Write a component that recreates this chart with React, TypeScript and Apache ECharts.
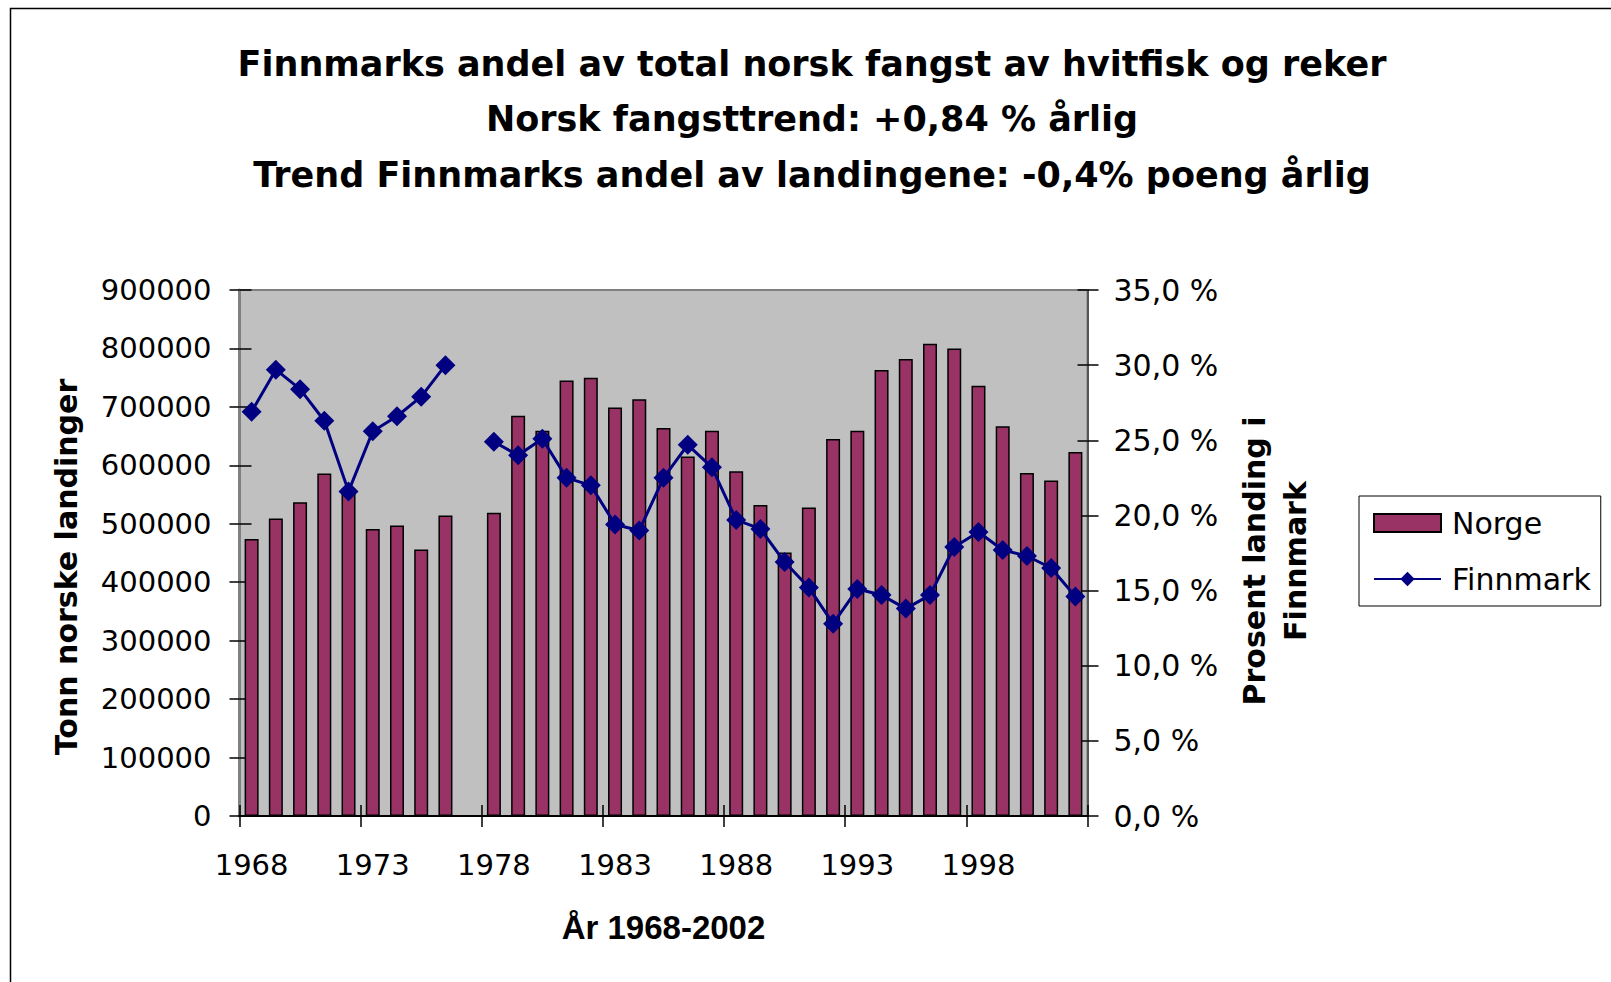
import React, { useEffect, useRef } from "react";
import * as echarts from "echarts";

const years: string[] = [
  "1968", "1969", "1970", "1971", "1972", "1973", "1974", "1975", "1976", "1977",
  "1978", "1979", "1980", "1981", "1982", "1983", "1984", "1985", "1986", "1987",
  "1988", "1989", "1990", "1991", "1992", "1993", "1994", "1995", "1996", "1997",
  "1998", "1999", "2000", "2001", "2002",
];

const norge: (number | null)[] = [
  474000, 509000, 537000, 586000, 560000, 491000, 497000, 456000, 514000, null,
  519000, 685000, 659000, 745000, 750000, 699000, 713000, 664000, 615000, 659000,
  590000, 532000, 451000, 528000, 645000, 659000, 763000, 782000, 808000, 800000,
  736000, 667000, 587000, 574000, 623000,
];

const finnmark: (number | null)[] = [
  26.9, 29.7, 28.4, 26.3, 21.6, 25.6, 26.6, 27.9, 30.0, null,
  24.9, 24.0, 25.1, 22.5, 22.0, 19.4, 19.0, 22.5, 24.7, 23.2,
  19.7, 19.1, 16.9, 15.2, 12.8, 15.1, 14.7, 13.8, 14.7, 17.9,
  18.9, 17.7, 17.3, 16.5, 14.6,
];

const titleLines: string[] = [
  "Finnmarks andel av total norsk fangst av hvitfisk og reker",
  "Norsk fangsttrend: +0,84 % årlig",
  "Trend Finnmarks andel av landingene: -0,4% poeng årlig",
];

const FONT = "'Liberation Sans', Arial, sans-serif";
const WIDE = "'DejaVu Sans', 'Liberation Sans', sans-serif";

export default function App() {
  const ref = useRef<HTMLDivElement>(null);

  useEffect(() => {
    if (!ref.current) return;
    const chart = echarts.init(ref.current, undefined, { renderer: "svg" });
    const gridLeft = 239.5;
    const gridTop = 290;
    const gridW = 848;
    const gridH = 526;

    chart.setOption({
      animation: false,
      backgroundColor: "#ffffff",
      textStyle: { fontFamily: WIDE },
      title: {
        text: titleLines.join("\n"),
        left: 812,
        top: 36,
        textAlign: "center",
        padding: 0,
        textStyle: {
          fontFamily: WIDE,
          fontSize: 35,
          fontWeight: "bold",
          color: "#000",
          lineHeight: 55.5,
        },
      },
      graphic: [
        {
          type: "rect",
          shape: { x: 10.5, y: 8.5, width: 1700, height: 1100 },
          style: { fill: "none", stroke: "#000", lineWidth: 1.5 },
          silent: true,
          z: -10,
        },
      ],
      legend: {
        orient: "vertical",
        left: 1359,
        top: 496,
        padding: [12, 10, 12, 14],
        itemGap: 26,
        itemWidth: 67,
        itemHeight: 18,
        borderColor: "#000",
        borderWidth: 1,
        backgroundColor: "#fff",
        textStyle: { fontFamily: WIDE, fontSize: 30, color: "#000", padding: [0, 0, 0, 6] },
        data: [{ name: "Norge", icon: "rect" }, { name: "Finnmark" }],
      },
      grid: {
        left: gridLeft,
        top: gridTop,
        width: gridW,
        height: gridH,
        show: true,
        backgroundColor: "#c0c0c0",
        borderColor: "#808080",
        borderWidth: 2,
        containLabel: false,
      },
      xAxis: [
        {
          type: "category",
          data: years,
          boundaryGap: true,
          position: "bottom",
          axisLine: { show: true, lineStyle: { color: "#000", width: 2 } },
          axisTick: { show: true, interval: 4, length: 11, lineStyle: { color: "#000", width: 1.5 } },
          axisLabel: {
            interval: 4,
            margin: 34,
            fontFamily: WIDE,
            fontSize: 29,
            color: "#000",
          },
          name: "År 1968-2002",
          nameLocation: "middle",
          nameGap: 95,
          nameTextStyle: { fontFamily: FONT, fontSize: 33, fontWeight: "bold", color: "#000" },
          splitLine: { show: false },
        },
        {
          type: "category",
          data: years,
          boundaryGap: true,
          position: "bottom",
          axisLine: { show: false },
          axisTick: { show: true, inside: true, interval: 4, length: 11, lineStyle: { color: "#000", width: 1.5 } },
          axisLabel: { show: false },
          splitLine: { show: false },
        },
      ],
      yAxis: [
        {
          type: "value",
          position: "left",
          min: 0,
          max: 900000,
          interval: 100000,
          axisLine: { show: true, lineStyle: { color: "#808080", width: 3 } },
          axisTick: { show: true, length: 10, lineStyle: { color: "#000", width: 1.5 } },
          axisLabel: {
            margin: 28,
            fontFamily: WIDE,
            fontSize: 29,
            color: "#000",
            formatter: (v: number) => String(v),
          },
          splitLine: { show: false },
          name: "Tonn norske landinger",
          nameLocation: "middle",
          nameRotate: 90,
          nameGap: 158,
          nameTextStyle: {
            fontFamily: WIDE,
            fontSize: 30,
            fontWeight: "bold",
            color: "#000",
            padding: [0, 28, 0, 0],
          },
        },
        {
          type: "value",
          position: "right",
          min: 0,
          max: 35,
          interval: 5,
          axisLine: { show: true, lineStyle: { color: "#555", width: 2 } },
          axisTick: { show: true, length: 11, lineStyle: { color: "#000", width: 1.5 } },
          axisLabel: {
            margin: 26,
            fontFamily: WIDE,
            fontSize: 30,
            color: "#000",
            formatter: (v: number) => v.toFixed(1).replace(".", ",") + " %",
          },
          splitLine: { show: false },
          name: "Prosent landing i\nFinnmark",
          nameLocation: "middle",
          nameRotate: 90,
          nameGap: 146,
          nameTextStyle: {
            fontFamily: WIDE,
            fontSize: 30,
            fontWeight: "bold",
            color: "#000",
            lineHeight: 41,
            align: "center",
            padding: [0, 16, 0, 0],
          },
        },
        {
          type: "value",
          position: "left",
          min: 0,
          max: 900000,
          interval: 100000,
          axisLine: { show: false },
          axisTick: { show: true, inside: true, length: 12, lineStyle: { color: "#000", width: 1.5 } },
          axisLabel: { show: false },
          splitLine: { show: false },
        },
        {
          type: "value",
          position: "right",
          min: 0,
          max: 35,
          interval: 5,
          axisLine: { show: false },
          axisTick: { show: true, inside: true, length: 10, lineStyle: { color: "#000", width: 1.5 } },
          axisLabel: { show: false },
          splitLine: { show: false },
        },
      ],
      series: [
        {
          name: "Norge",
          type: "bar",
          xAxisIndex: 0,
          yAxisIndex: 0,
          data: norge,
          barWidth: 14,
          itemStyle: { color: "#993366", borderColor: "#000", borderWidth: 1.5 },
          z: 2,
        },
        {
          name: "Finnmark",
          type: "line",
          xAxisIndex: 0,
          yAxisIndex: 1,
          data: finnmark,
          connectNulls: false,
          showSymbol: true,
          showAllSymbol: true,
          symbol: "diamond",
          symbolSize: [20, 20],
          lineStyle: { color: "#000080", width: 3 },
          itemStyle: { color: "#000080", borderColor: "#000080", borderWidth: 0 },
          z: 3,
        },
      ],
    });

    return () => {
      chart.dispose();
    };
  }, []);

  return (
    <div
      ref={ref}
      style={{ position: "absolute", left: 0, top: 0, width: 1611, height: 982 }}
    />
  );
}
